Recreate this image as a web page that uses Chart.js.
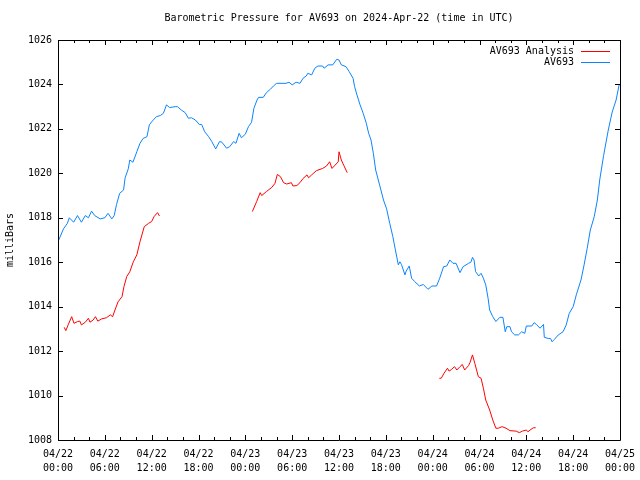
<!DOCTYPE html>
<html>
<head>
<meta charset="utf-8">
<title>Barometric Pressure for AV693</title>
<script src="https://cdn.jsdelivr.net/npm/chart.js@4/dist/chart.umd.min.js"></script>
<style>
    html, body { margin: 0; padding: 0; background: #ffffff; }
    canvas { display: block; }
</style>
</head>
<body>
<canvas id="chartPressure" width="640" height="480"></canvas>
<script>
// hours since 2024-04-22 00:00 UTC
var stationHours = [
    0.1, 0.7, 1.2, 1.45, 2.0, 2.5, 3.0, 3.5, 3.9, 4.3, 4.7, 5.4, 6.0, 6.4, 6.9, 7.2, 7.5, 7.9, 8.4, 8.6,
    9.0, 9.2, 9.6, 10.1, 10.5, 10.9, 11.4, 11.7, 12.1, 12.6, 13.1, 13.5, 13.9, 14.3, 15.0, 15.3, 15.8, 16.3, 16.7, 17.1,
    17.6, 18.1, 18.4, 18.8, 19.3, 19.7, 20.2, 20.7, 21.0, 21.6, 22.0, 22.5, 22.8, 23.2, 23.5, 24.0, 24.4, 24.8, 25.1, 25.5,
    25.7, 26.3, 26.7, 27.2, 27.6, 28.0, 28.7, 29.2, 29.6, 30.0, 30.5, 31.0, 31.4, 31.8, 32.0, 32.5, 32.9, 33.3, 33.9, 34.1,
    34.6, 35.2, 35.7, 36.0, 36.3, 36.9, 37.3, 37.8, 38.0, 38.3, 38.7, 39.1, 39.5, 39.8, 40.1, 40.4, 40.7, 41.2, 41.7, 42.1,
    42.5, 42.9, 43.2, 43.6, 43.8, 44.0, 44.45, 44.6, 45.0, 45.3, 45.7, 46.3, 46.8, 47.4, 47.9, 48.5, 48.9, 49.4, 49.8, 50.2,
    50.6, 51.0, 51.5, 51.9, 52.6, 52.9, 53.1, 53.3, 53.5, 53.9, 54.2, 54.5, 54.8, 55.1, 55.3, 55.7, 56.1, 56.6, 57.0, 57.3,
    57.5, 57.9, 58.1, 58.5, 59.0, 59.4, 59.8, 60.0, 60.7, 61.0, 61.3, 61.75, 62.2, 62.3, 62.8, 63.1, 63.3, 63.6, 64.1, 64.7,
    65.1, 65.5, 66.0, 66.4, 67.0, 67.4, 67.8, 68.2, 68.7, 69.1, 69.4, 69.9, 70.5, 71.0, 71.5, 71.9
];
var stationPressure = [
    1017.0, 1017.5, 1017.75, 1018.0, 1017.8, 1018.1, 1017.8, 1018.1, 1018.0, 1018.3, 1018.1, 1017.95, 1018.0, 1018.2, 1017.95, 1018.1, 1018.6, 1019.1, 1019.25, 1019.8,
    1020.2, 1020.6, 1020.5, 1020.97, 1021.35, 1021.57, 1021.65, 1022.18, 1022.36, 1022.55, 1022.6, 1022.7, 1023.08, 1022.96, 1023.0, 1023.0, 1022.85, 1022.73, 1022.48, 1022.5,
    1022.4, 1022.2, 1022.2, 1021.87, 1021.65, 1021.43, 1021.1, 1021.43, 1021.4, 1021.13, 1021.2, 1021.43, 1021.35, 1021.8, 1021.6, 1021.76, 1022.1, 1022.3, 1022.93, 1023.3,
    1023.42, 1023.42, 1023.63, 1023.78, 1023.93, 1024.05, 1024.05, 1024.05, 1024.1, 1023.98, 1024.1, 1024.05, 1024.28, 1024.38, 1024.5, 1024.43, 1024.73, 1024.83, 1024.83, 1024.73,
    1024.88, 1024.88, 1025.13, 1025.1, 1024.88, 1024.8, 1024.58, 1024.28, 1023.9, 1023.53, 1023.08, 1022.7, 1022.25, 1021.8, 1021.5, 1020.9, 1020.15, 1019.48, 1018.8, 1018.4,
    1017.75, 1017.15, 1016.6, 1015.88, 1016.02, 1015.9, 1015.43, 1015.6, 1015.83, 1015.28, 1015.13, 1014.93, 1015.0, 1014.78, 1014.93, 1014.93, 1015.28, 1015.8, 1015.83, 1016.1,
    1015.95, 1015.95, 1015.53, 1015.8, 1015.95, 1016.0, 1016.22, 1016.1, 1015.58, 1015.38, 1015.5, 1015.28, 1014.98, 1014.38, 1013.85, 1013.55, 1013.33, 1013.52, 1013.52, 1012.87,
    1013.1, 1013.1, 1012.87, 1012.73, 1012.73, 1012.87, 1012.8, 1013.13, 1013.13, 1013.28, 1013.2, 1013.03, 1013.2, 1012.62, 1012.57, 1012.57, 1012.42, 1012.53, 1012.73, 1012.87,
    1013.17, 1013.7, 1014.0, 1014.53, 1015.2, 1015.88, 1016.63, 1017.45, 1018.05, 1018.8, 1019.7, 1020.8, 1021.95, 1022.76, 1023.3, 1024.0
];

// analysis series, null = gap between runs
var analysisHours = [
    0.8, 1.0, 1.3, 1.75, 2.05, 2.5, 2.8, 3.0, 3.5, 3.9, 4.1, 4.5, 4.8, 5.1, 5.6, 6.2, 6.7, 7.0, 7.3, 7.7,
    8.2, 8.45, 8.8, 9.2, 9.65, 10.1, 10.5, 11.05, 11.6, 12.0, 12.3, 12.75, 13.0, 18.0,
    24.9, 25.45, 25.9, 26.1, 26.7, 27.4, 27.8, 28.1, 28.5, 28.9, 29.3, 29.9, 30.1, 30.6, 31.0, 31.4, 31.9, 32.1, 32.5, 33.1,
    33.9, 34.4, 34.8, 35.1, 35.5, 35.9, 36.0, 36.3, 36.6, 37.05, 42.0,
    48.85, 49.1, 49.45, 49.9, 50.1, 50.4, 50.8, 51.1, 51.5, 51.8, 52.1, 52.6, 52.8, 53.1, 53.4, 53.85, 54.2, 54.5, 54.8, 55.3,
    55.7, 56.1, 56.4, 56.9, 57.4, 57.9, 58.7, 59.1, 59.5, 60.0, 60.2, 60.6, 60.9, 61.2
];
var analysisPressure = [
    1013.07, 1012.92, 1013.18, 1013.55, 1013.25, 1013.33, 1013.35, 1013.18, 1013.3, 1013.48, 1013.3, 1013.4, 1013.55, 1013.35, 1013.45, 1013.5, 1013.63, 1013.55, 1013.85, 1014.22,
    1014.45, 1014.9, 1015.35, 1015.57, 1016.02, 1016.33, 1016.92, 1017.6, 1017.75, 1017.83, 1018.05, 1018.23, 1018.08, null,
    1018.28, 1018.73, 1019.13, 1019.0, 1019.18, 1019.37, 1019.55, 1019.95, 1019.85, 1019.58, 1019.52, 1019.58, 1019.43, 1019.45, 1019.58, 1019.77, 1019.93, 1019.8, 1019.93, 1020.12,
    1020.22, 1020.33, 1020.52, 1020.22, 1020.37, 1020.52, 1020.97, 1020.6, 1020.37, 1020.03, null,
    1010.78, 1010.78, 1011.0, 1011.23, 1011.1, 1011.17, 1011.3, 1011.15, 1011.3, 1011.4, 1011.15, 1011.35, 1011.5, 1011.83, 1011.45, 1010.85, 1010.78, 1010.33, 1009.8, 1009.35,
    1008.9, 1008.53, 1008.53, 1008.6, 1008.53, 1008.42, 1008.4, 1008.33, 1008.4, 1008.45, 1008.37, 1008.48, 1008.55, 1008.55
];

// tick labels, one per 6 hours
var xTickHours = [0, 6, 12, 18, 24, 30, 36, 42, 48, 54, 60, 66, 72];
var xTickDates = ['04/22', '04/22', '04/22', '04/22', '04/23', '04/23', '04/23', '04/23', '04/24', '04/24', '04/24', '04/24', '04/25'];
var xTickTimes = ['00:00', '06:00', '12:00', '18:00', '00:00', '06:00', '12:00', '18:00', '00:00', '06:00', '12:00', '18:00', '00:00'];
var yTicks = [1008, 1010, 1012, 1014, 1016, 1018, 1020, 1022, 1024, 1026];

var titleText = 'Barometric Pressure for AV693 on 2024-Apr-22 (time in UTC)';
var seriesNames = ['AV693 Analysis', 'AV693'];
var seriesColors = ['#ff0000', '#0a84ff'];

var monoFont = '"DejaVu Sans Mono", "Liberation Mono", monospace';

function toPoints(xs, ys) {
    var pts = [];
    for (var i = 0; i < xs.length; i++) {
        pts.push({ x: xs[i], y: ys[i] });
    }
    return pts;
}

// gnuplot style frame: border, inward ticks on all four sides, title and legend
var framePlugin = {
    id: 'frame',
    afterDraw: function(chart) {
        var ctx = chart.ctx;
        var a = chart.chartArea;
        var xs = chart.scales.x;
        var ys = chart.scales.y;
        ctx.save();
        ctx.strokeStyle = '#000000';
        ctx.lineWidth = 1;
        ctx.beginPath();
        ctx.rect(Math.round(a.left) + 0.5, Math.round(a.top) + 0.5, Math.round(a.right - a.left), Math.round(a.bottom - a.top));
        // x ticks every 2 hours, long ones at 6 hours
        for (var h = 0; h <= 72; h += 2) {
            var px = Math.round(xs.getPixelForValue(h)) + 0.5;
            var len = (h % 6 === 0) ? 5 : 3;
            ctx.moveTo(px, a.bottom);
            ctx.lineTo(px, a.bottom - len);
            ctx.moveTo(px, a.top);
            ctx.lineTo(px, a.top + len);
        }
        for (var i = 0; i < yTicks.length; i++) {
            var py = Math.round(ys.getPixelForValue(yTicks[i])) + 0.5;
            ctx.moveTo(a.left, py);
            ctx.lineTo(a.left + 5, py);
            ctx.moveTo(a.right, py);
            ctx.lineTo(a.right - 5, py);
        }
        ctx.stroke();

        ctx.fillStyle = '#000000';
        ctx.font = '10px ' + monoFont;
        ctx.textAlign = 'center';
        ctx.textBaseline = 'alphabetic';
        ctx.fillText(titleText, (a.left + a.right) / 2, 21);

        // legend, top right inside the plot
        var rows = [51, 62];
        ctx.textAlign = 'right';
        ctx.textBaseline = 'middle';
        for (var k = 0; k < seriesNames.length; k++) {
            ctx.fillStyle = '#000000';
            ctx.fillText(seriesNames[k], 574, rows[k]);
            ctx.strokeStyle = seriesColors[k];
            ctx.beginPath();
            ctx.moveTo(581, rows[k] + 0.5);
            ctx.lineTo(610, rows[k] + 0.5);
            ctx.stroke();
        }
        ctx.restore();
    }
};

var ctx = document.getElementById('chartPressure');
var myChart = new Chart(ctx, {
    type: 'line',
    data: {
        datasets: [{
            label: seriesNames[0],
            data: toPoints(analysisHours, analysisPressure),
            borderColor: seriesColors[0],
            borderWidth: 1,
            pointRadius: 0,
            spanGaps: false,
            tension: 0
        }, {
            label: seriesNames[1],
            data: toPoints(stationHours, stationPressure),
            borderColor: seriesColors[1],
            borderWidth: 1,
            pointRadius: 0,
            tension: 0
        }]
    },
    options: {
        responsive: false,
        animation: false,
        devicePixelRatio: 1,
        layout: { padding: { top: 40, right: 20, left: 0, bottom: 0 } },
        plugins: {
            legend: { display: false },
            title: { display: false },
            tooltip: { enabled: false }
        },
        scales: {
            x: {
                type: 'linear',
                min: 0,
                max: 72,
                grid: { display: false, drawTicks: false },
                border: { display: false },
                afterBuildTicks: function(scale) {
                    scale.ticks = xTickHours.map(function(v) { return { value: v }; });
                },
                afterFit: function(scale) {
                    scale.height = 40;
                    scale.paddingLeft = 0;
                    scale.paddingRight = 0;
                },
                ticks: {
                    autoSkip: false,
                    maxRotation: 0,
                    padding: 8,
                    color: '#000000',
                    font: { family: monoFont, size: 10, lineHeight: 1.35 },
                    callback: function(value) {
                        var i = xTickHours.indexOf(value);
                        return i < 0 ? '' : [xTickDates[i], xTickTimes[i]];
                    }
                }
            },
            y: {
                min: 1008,
                max: 1026,
                grid: { display: false, drawTicks: false },
                border: { display: false },
                afterBuildTicks: function(scale) {
                    scale.ticks = yTicks.map(function(v) { return { value: v }; });
                },
                afterFit: function(scale) {
                    scale.width = 58;
                    scale.paddingTop = 0;
                    scale.paddingBottom = 0;
                },
                title: {
                    display: true,
                    text: 'milliBars',
                    color: '#000000',
                    font: { family: monoFont, size: 10 },
                    padding: { top: 4, bottom: 0 }
                },
                ticks: {
                    padding: 6,
                    color: '#000000',
                    font: { family: monoFont, size: 10 },
                    callback: function(value) { return String(value); }
                }
            }
        }
    },
    plugins: [framePlugin]
});
</script>
</body>
</html>
